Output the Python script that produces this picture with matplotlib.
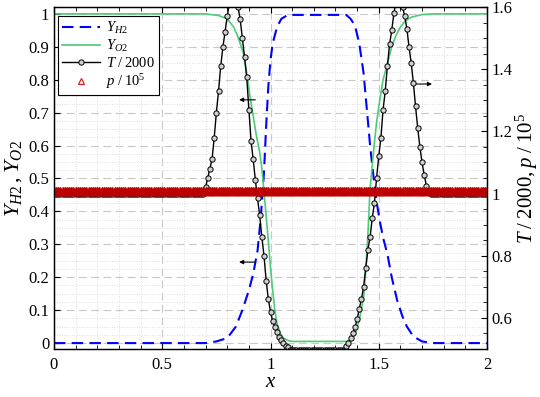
import numpy as np
import matplotlib
matplotlib.use("Agg")
import matplotlib.pyplot as plt
from matplotlib.ticker import MultipleLocator, FuncFormatter
from matplotlib.lines import Line2D

plt.rcParams['font.family'] = ['Liberation Serif', 'DejaVu Serif']
plt.rcParams['mathtext.fontset'] = 'custom'
plt.rcParams['mathtext.it'] = 'Liberation Serif:italic'
plt.rcParams['mathtext.rm'] = 'Liberation Serif'
plt.rcParams['mathtext.default'] = 'it'

# ---- data ----
# Y_H2 (blue dashed, left axis)
x_h2 = [0.0, 0.70, 0.75, 0.80, 0.84, 0.87, 0.90, 0.92, 0.94, 0.955, 0.97, 0.98, 0.99, 1.00,
        1.01, 1.03, 1.05, 1.08, 1.35, 1.37, 1.39, 1.41, 1.43, 1.445, 1.46, 1.475, 1.49,
        1.505, 1.52, 1.54, 1.56, 1.585, 1.61, 1.63, 1.66, 1.70, 1.75, 2.0]
y_h2 = [0.0, 0.0, 0.005, 0.015, 0.05, 0.10, 0.16, 0.21, 0.28, 0.38, 0.52, 0.66, 0.78, 0.86,
        0.91, 0.96, 0.985, 0.997, 0.997, 0.985, 0.965, 0.91, 0.82, 0.71, 0.60, 0.51, 0.43,
        0.37, 0.32, 0.27, 0.20, 0.13, 0.08, 0.05, 0.02, 0.005, 0.0, 0.0]

# Y_O2 (green solid, left axis)
x_o2 = [0.0, 0.70, 0.76, 0.80, 0.83, 0.85, 0.875, 0.89, 0.905, 0.92, 0.935, 0.95, 0.96,
        0.97, 0.98, 0.99, 1.00, 1.01, 1.02, 1.03, 1.045, 1.06, 1.08, 1.10, 1.35, 1.37,
        1.39, 1.41, 1.43, 1.44, 1.45, 1.46, 1.47, 1.48, 1.49, 1.505, 1.52, 1.54, 1.56,
        1.58, 1.60, 1.625, 1.65, 1.70, 1.75, 2.0]
y_o2 = [1.0, 1.0, 0.995, 0.985, 0.96, 0.93, 0.88, 0.82, 0.75, 0.69, 0.63, 0.58, 0.53,
        0.46, 0.385, 0.31, 0.23, 0.16, 0.10, 0.06, 0.03, 0.015, 0.008, 0.005, 0.005, 0.01,
        0.025, 0.07, 0.14, 0.22, 0.33, 0.47, 0.54, 0.61, 0.67, 0.74, 0.80, 0.85, 0.90,
        0.935, 0.96, 0.98, 0.99, 0.998, 1.0, 1.0]

# grid points of the solution (uniform spacing 0.01)
x_grid = np.linspace(0.0, 2.0, 201)

# T/2000 (black with circles, right axis), one value per grid point
T_2000 = ([0.997] * 70 +
          [1.02, 1.05, 1.08, 1.11, 1.18, 1.26, 1.33, 1.41, 1.47, 1.52,
           1.57, 1.61, 1.65, 1.67, 1.64, 1.60, 1.56, 1.50, 1.44, 1.375,
           1.27, 1.17, 1.11, 1.044, 0.985, 0.93, 0.86, 0.80, 0.72, 0.66,
           0.62, 0.59, 0.57, 0.555, 0.54, 0.53, 0.52, 0.51, 0.505] +
          [0.497] * 26 +
          [0.51, 0.52, 0.535, 0.55, 0.57, 0.595, 0.63, 0.66, 0.70, 0.76,
           0.82, 0.86, 0.92, 0.97, 1.05, 1.12, 1.18, 1.27, 1.33, 1.41,
           1.48, 1.525, 1.58, 1.62, 1.65, 1.64, 1.60, 1.57, 1.53, 1.47,
           1.42, 1.355, 1.28, 1.21, 1.15, 1.10, 1.06, 1.025, 1.005, 0.998] +
          [0.997] * 26)

# p/10^5 (red triangles, right axis)
p_1e5 = [1.008] * 201

x_ticks = [0, 0.5, 1, 1.5, 2]
yl_ticks = [0, 0.1, 0.2, 0.3, 0.4, 0.5, 0.6, 0.7, 0.8, 0.9, 1.0]
yr_ticks = [0.6, 0.8, 1.0, 1.2, 1.4, 1.6]

# ---- figure ----
fig = plt.figure(figsize=(5.4, 3.97), dpi=100)
ax = fig.add_axes([54 / 540, 1 - 349 / 397, 433 / 540, 342 / 397])
ax2 = ax.twinx()

fmt = FuncFormatter(lambda v, p: '%g' % round(v, 3))

l_h2, = ax.plot(x_h2, y_h2, color='#0000ff', lw=1.5, ls=(0, (5.5, 3)))
l_o2, = ax.plot(x_o2, y_o2, color='#4ccb78', lw=1.2)

ax.set_xlim(0, 2)
ax.set_ylim(-0.018, 1.021)
ax.set_xticks(x_ticks)
ax.set_yticks(yl_ticks)
ax.xaxis.set_minor_locator(MultipleLocator(0.1))
ax.yaxis.set_minor_locator(MultipleLocator(0.025))
ax.xaxis.set_major_formatter(fmt)
ax.yaxis.set_major_formatter(fmt)
ax.grid(which='major', ls=(0, (7, 4)), color='#c8c8c8', lw=0.8)
ax.grid(which='minor', ls=(0, (1, 2)), color='#d4d4d4', lw=0.6)
ax.set_axisbelow(True)
ax.tick_params(axis='x', which='both', direction='in', top=True, labelsize=12, pad=6)
ax.tick_params(axis='x', which='major', length=4.5)
ax.tick_params(axis='x', which='minor', length=3)
ax.tick_params(axis='y', which='major', direction='in', length=4, labelsize=12, right=False)
ax.tick_params(axis='y', which='minor', length=0)
ax.set_xlabel('$x$', fontsize=15, labelpad=0)
ax.set_ylabel('$Y_{H2}$$\\,$,$\\;Y_{O2}$', fontsize=16, labelpad=3)

l_T, = ax2.plot(x_grid, T_2000, color='k', lw=1.0, marker='o', ms=3.8,
                mfc='#cfcfcf', mec='k', mew=0.7, clip_on=True)
l_p, = ax2.plot(x_grid, p_1e5, ls='none', marker='^', ms=5.5, mfc='#b40000',
                mec='#c00000', mew=1.0)
ax2.set_ylim(0.5, 1.6)
ax2.set_yticks(yr_ticks)
ax2.yaxis.set_minor_locator(MultipleLocator(0.05))
ax2.yaxis.set_major_formatter(fmt)
ax2.tick_params(axis='y', which='both', direction='in', labelsize=12, pad=3)
ax2.tick_params(axis='y', which='major', length=4.5)
ax2.tick_params(axis='y', which='minor', length=3)
ax2.set_ylabel('$T\\;/\\;2000$,$\\;p\\;/\\;10^5$', fontsize=15, labelpad=1)

for a in (ax, ax2):
    for s in a.spines.values():
        s.set_linewidth(0.9)

# arrows indicating axes
arrow_kw = dict(arrowstyle='-|>', color='k', lw=0.8, mutation_scale=6, shrinkA=0, shrinkB=0)
ax.annotate('', xy=(0.855, 0.739), xytext=(0.93, 0.739), arrowprops=arrow_kw)
ax.annotate('', xy=(0.855, 0.246), xytext=(0.93, 0.246), arrowprops=arrow_kw)
ax.annotate('', xy=(1.746, 0.787), xytext=(1.667, 0.787), arrowprops=arrow_kw)

h_T = Line2D([], [], color='k', lw=1.0, marker='o', ms=3.8, mfc='#cfcfcf', mec='k', mew=0.7)
h_p = Line2D([], [], ls='none', marker='^', ms=4.5, mfc='none', mec='#dd2222', mew=0.9)
leg = ax2.legend(handles=[l_h2, l_o2, h_T, h_p],
                 labels=['$Y_{H2}$', '$Y_{O2}$', '$T\\;/\\;2000$', '$p\\;/\\;10^5$'],
                 loc='upper left', bbox_to_anchor=(0.009, 0.974), borderaxespad=0,
                 fontsize=10.5, fancybox=False, framealpha=1, edgecolor='k',
                 handlelength=2.6, labelspacing=0.12, borderpad=0.3, handletextpad=0.4)
leg.get_frame().set_linewidth(0.8)
leg.set_zorder(10)

fig.savefig('out.png', dpi=100)
